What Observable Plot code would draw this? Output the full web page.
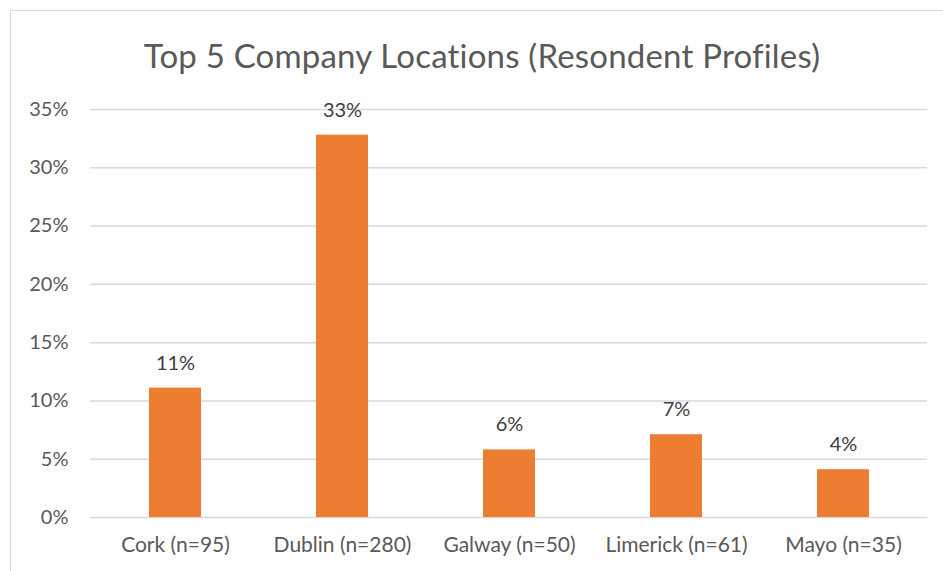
<!DOCTYPE html>
<html>
<head>
<meta charset="utf-8">
<script src="https://cdn.jsdelivr.net/npm/d3@7"></script>
<script src="https://cdn.jsdelivr.net/npm/@observablehq/plot@0.6"></script>
<style>
  html, body { margin: 0; padding: 0; background: #fff; overflow: hidden; }
  #wrap { position: relative; width: 943px; height: 571px; font-family: Lato, "Open Sans", sans-serif; }
  #frame { position: absolute; left: 10px; top: 10px; width: 1000px; height: 1000px; border: 1.5px solid #d9d9d9; box-sizing: border-box; }
  #title { position: absolute; left: 0; width: 964px; top: 35px; text-align: center; font-size: 33px; color: #595959; line-height: 40px; letter-spacing: 0.2px; }
  #chart { position: absolute; left: 0; top: 0; }
</style>
</head>
<body>
<div id="wrap">
  <div id="frame"></div>
  <div id="title">Top 5 Company Locations (Resondent Profiles)</div>
  <div id="chart"></div>
</div>
<script>
const categories = ["Cork (n=95)", "Dublin (n=280)", "Galway (n=50)", "Limerick (n=61)", "Mayo (n=35)"];
const shares = [0.111, 0.328, 0.058, 0.071, 0.041];
const yTicks = [0, 0.05, 0.10, 0.15, 0.20, 0.25, 0.30, 0.35];

const data = categories.map((c, i) => ({category: c, share: shares[i]}));
const pct = d3.format(".0%");

const chart = Plot.plot({
  width: 943,
  height: 571,
  marginLeft: 90,
  marginRight: 16,
  marginTop: 109,
  marginBottom: 54,
  style: {fontFamily: "Lato, 'Open Sans', sans-serif", fontSize: "20px", color: "#595959", background: "transparent"},
  x: {domain: categories, paddingInner: 0.69, paddingOuter: 0.345, label: null},
  y: {domain: [0, 0.35], label: null},
  marks: [
    Plot.gridY(yTicks, {stroke: "#d9d9d9", strokeOpacity: 1, strokeWidth: 1.5}),
    Plot.axisY(yTicks, {tickFormat: pct, tickSize: 0, tickPadding: 22, fontSize: 20, fill: "#595959", label: null}),
    Plot.axisX({tickSize: 0, tickPadding: 20, fontSize: 21, fill: "#595959", label: null}),
    Plot.barY(data, {x: "category", y: "share", fill: "#ED7D31"}),
    Plot.text(data, {x: "category", y: "share", text: d => pct(d.share), dy: -25, fontSize: 20, fill: "#404040"})
  ]
});
document.getElementById("chart").appendChild(chart);
</script>
</body>
</html>
